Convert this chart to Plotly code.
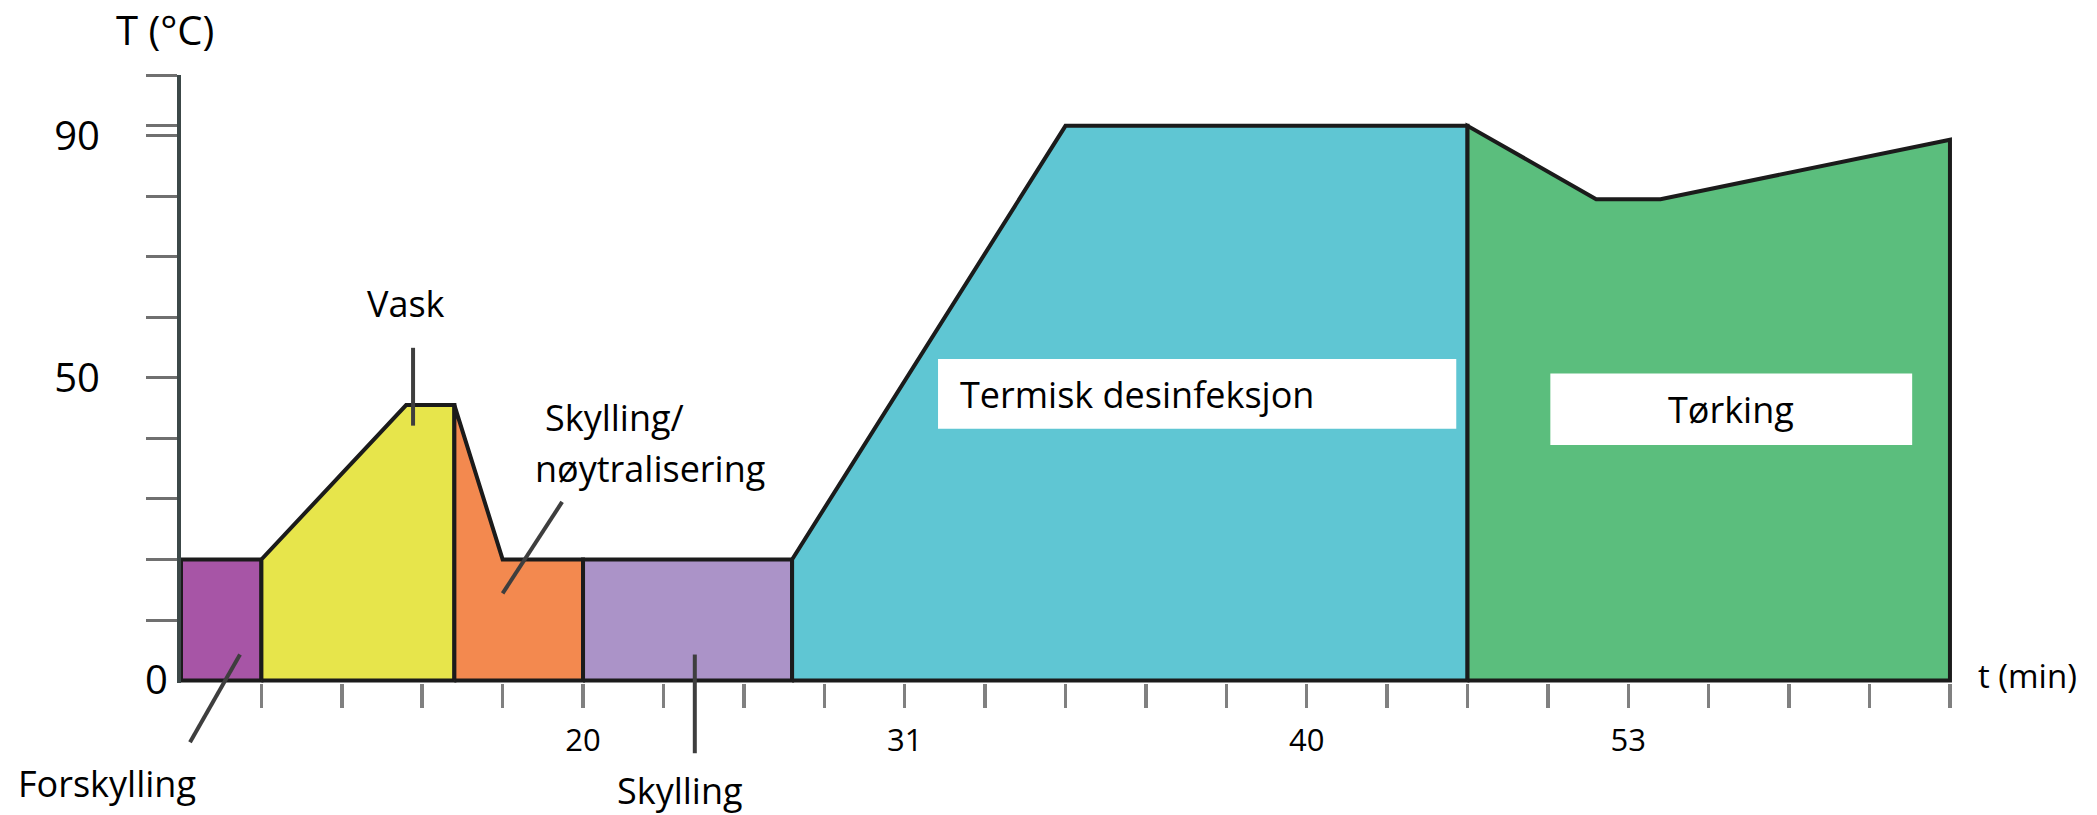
import plotly.graph_objects as go

# ---- data (x in axis-tick units, y in °C) ----
stages = ["Forskylling", "Vask", "Skylling/nøytralisering", "Skylling",
          "Termisk desinfeksjon", "Tørking"]
stage_bounds = [0, 1, 3.4, 5.0, 7.6, 16.0, 22.0]
stage_colors = ["#A755A6", "#E7E54B", "#F3894F", "#AB93C8", "#5FC6D3", "#5BBE7D"]

profile_x = [0, 1, 2.8, 3.4, 4.0, 5.0, 7.6, 11.0, 16.0, 17.6, 18.4, 22.0]
profile_t = [20, 20, 45.5, 45.5, 20, 20, 20, 91.6, 91.6, 79.5, 79.5, 89.3]

x_tickvals = list(range(1, 23))
x_ticklabels = {5: "20", 9: "31", 14: "40", 18: "53"}
y_tickvals = [10, 20, 30, 40, 50, 60, 70, 80, 90, 91.6, 100]
y_ticklabels = {50: "50", 90: "90"}

XR = [0, 22.1]
YR = [-0.4, 100]
FONT = "Open Sans"

def px_(x):
    return (x - XR[0]) / (XR[1] - XR[0])

def py_(y):
    return (y - YR[0]) / (YR[1] - YR[0])

fig = go.Figure()

for i, name in enumerate(stages):
    s, e = stage_bounds[i], stage_bounds[i + 1]
    pts = [(x, t) for x, t in zip(profile_x, profile_t) if s <= x <= e]
    xs = [s] + [p[0] for p in pts] + [e, s]
    ys = [0] + [p[1] for p in pts] + [0, 0]
    fig.add_trace(go.Scatter(
        x=xs, y=ys, mode="lines", fill="toself", fillcolor=stage_colors[i],
        line=dict(color="#1b1b1b", width=4), name=name,
        showlegend=False, hoverinfo="skip"))

# white label boxes
boxes = [
    dict(x0=9.415, x1=15.86, y0=41.6, y1=53.1),
    dict(x0=17.03, x1=21.53, y0=38.9, y1=50.7),
]
for b in boxes:
    fig.add_shape(type="rect", xref="x", yref="y", line=dict(width=0),
                  fillcolor="white", layer="above", **b)

ann = []
def txt(text, x, y, size=36, xanchor="center"):
    ann.append(dict(text=text, x=px_(x), y=py_(y), xref="paper", yref="paper",
                    showarrow=False, xanchor=xanchor, yanchor="middle",
                    font=dict(family=FONT, size=size, color="black")))

txt("T (°C)", -0.2, 107.5, 40)
txt("0", -0.14, 0.3, 40, "right")
txt("t (min)", 22.96, 0.9, 33)
txt("Vask", 2.80, 62.3)
txt("Skylling/", 4.50, 43.5, xanchor="left")
txt("nøytralisering", 4.38, 35.0, xanchor="left")
txt("Forskylling", -0.92, -17.0)
txt("Skylling", 6.21, -18.2)
txt("Termisk desinfeksjon", 9.66, 47.2, xanchor="left")
txt("Tørking", 19.28, 44.7)

# leader lines: (text end x, y) -> (point x, y)
leaders = [((2.886, 54.95), (2.886, 42.1)),
           ((4.74, 29.5), (4.00, 14.4)),
           ((0.734, 4.3), (0.112, -10.2)),
           ((6.39, 4.3), (6.39, -12.0))]
for (x0, y0), (x1, y1) in leaders:
    fig.add_shape(type="line", xref="paper", yref="paper",
                  x0=px_(x0), y0=py_(y0), x1=px_(x1), y1=py_(y1),
                  line=dict(color="#3e3e3e", width=4), layer="above")

fig.update_layout(
    width=2097, height=815,
    margin=dict(l=181, r=139, t=75, b=131.6, pad=0, autoexpand=False),
    paper_bgcolor="white", plot_bgcolor="white",
    annotations=ann,
    xaxis=dict(range=XR, showgrid=False, zeroline=False, showline=False,
               automargin=False,
               ticks="outside", tickvals=x_tickvals,
               ticktext=[x_ticklabels.get(v, "") for v in x_tickvals],
               ticklen=24, tickwidth=3.5, tickcolor="#808080",
               tickfont=dict(family=FONT, size=31, color="black"),
               ticklabelstandoff=6),
    yaxis=dict(range=YR, showgrid=False, zeroline=False, automargin=False,
               showline=True, linecolor="#3c4848", linewidth=4,
               ticks="outside", tickvals=y_tickvals,
               ticktext=[y_ticklabels.get(v, "") for v in y_tickvals],
               ticklen=31, tickwidth=3, tickcolor="#707070",
               tickfont=dict(family=FONT, size=40, color="black"),
               ticklabelstandoff=38),
)

fig.write_html(
    "out.html",
    config={"displayModeBar": False, "staticPlot": True},
    post_script="document.body.style.margin='0';document.body.style.overflow='hidden';",
)
